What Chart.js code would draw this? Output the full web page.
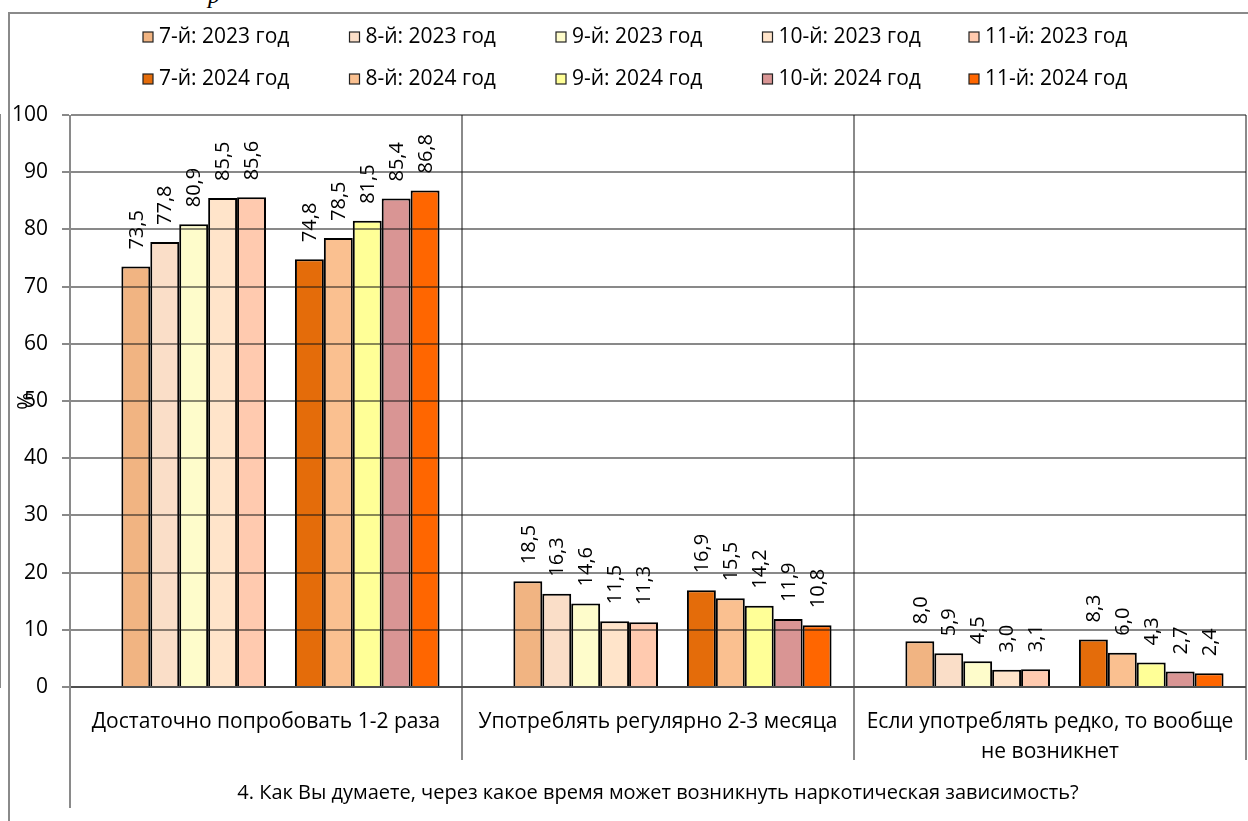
<!DOCTYPE html>
<html lang="ru">
<head>
<meta charset="utf-8">
<title>Наркотическая зависимость</title>
<script src="https://cdn.jsdelivr.net/npm/chart.js@4.4.1/dist/chart.umd.min.js"></script>
<style>
    html, body { margin: 0; padding: 0; background: #fff; }
    #wrap { position: relative; width: 1248px; height: 821px; overflow: hidden; }
    #frame {
        position: absolute; left: 8px; top: 12px; width: 1260px; height: 830px;
        border-top: 2px solid #8a8a8a; border-left: 2px solid #8a8a8a;
    }
    #cut {
        position: absolute; left: 208px; top: -18px; line-height: 24px;
        font: italic 24px "Liberation Serif", serif; color: #000;
    }
    canvas { position: absolute; left: 0; top: 0; }
</style>
</head>
<body>
<div id="wrap">
    <div id="frame"></div>
    <span id="cut">р</span>
    <canvas id="chart" width="1248" height="821"></canvas>
</div>

<script>
// ===============================
// DATA
// ===============================

const categories = [
    "Достаточно попробовать 1-2 раза",
    "Употреблять регулярно 2-3 месяца",
    ["Если употреблять редко, то вообще", "не возникнет"]
];

const grades = ["7-й", "8-й", "9-й", "10-й", "11-й"];

// one row per grade, one value per category
const values2023 = [
    [73.5, 18.5, 8.0],
    [77.8, 16.3, 5.9],
    [80.9, 14.6, 4.5],
    [85.5, 11.5, 3.0],
    [85.6, 11.3, 3.1]
];

const values2024 = [
    [74.8, 16.9, 8.3],
    [78.5, 15.5, 6.0],
    [81.5, 14.2, 4.3],
    [85.4, 11.9, 2.7],
    [86.8, 10.8, 2.4]
];

const yTickMin = 0;
const yTickMax = 100;
const yTickStep = 10;

const axisTitle = "4. Как Вы думаете, через какое время может возникнуть наркотическая зависимость?";

const colors2023 = ["#f1b482", "#fadec8", "#fefccb", "#ffe4ca", "#ffcaaf"];
const colors2024 = ["#e46c0a", "#fac090", "#ffff97", "#d99594", "#ff6600"];

const FONT = '"Open Sans", sans-serif';
const GRID = "rgba(20,20,20,0.5)";

// ===============================
// DATASETS
// ===============================

function spacer(){
    return { label: "", spacer: true, data: categories.map(() => null) };
}

function yearSets(values, colors, year){
    return values.map((row, i) => ({
        label: grades[i] + ": " + year,
        data: row,
        backgroundColor: colors[i],
        borderColor: "#000",
        borderWidth: 2
    }));
}

const datasets = [
    spacer(),
    ...yearSets(values2023, colors2023, "2023 год"),
    spacer(),
    ...yearSets(values2024, colors2024, "2024 год")
];

// ===============================
// PLUGINS
// ===============================

const barLabels = {
    id: "barLabels",
    afterDatasetsDraw(chart){
        const ctx = chart.ctx;
        ctx.save();
        ctx.font = "20px " + FONT;
        ctx.fillStyle = "#000";
        ctx.textAlign = "left";
        ctx.textBaseline = "middle";
        chart.data.datasets.forEach((ds, i) => {
            if (ds.spacer) return;
            chart.getDatasetMeta(i).data.forEach((bar, j) => {
                ctx.save();
                ctx.translate(bar.x + 1, bar.y - 17);
                ctx.rotate(-Math.PI / 2);
                ctx.fillText(ds.data[j].toFixed(1).replace(".", ","), 0, 0);
                ctx.restore();
            });
        });
        ctx.restore();
    }
};

const gridLegend = {
    id: "gridLegend",
    afterDraw(chart){
        const ctx = chart.ctx;
        const items = chart.data.datasets.filter(d => !d.spacer);
        ctx.save();
        ctx.font = "21px " + FONT;
        ctx.textBaseline = "middle";
        items.forEach((d, i) => {
            const x = 143 + (i % 5) * 206.5;
            const y = 37 + Math.floor(i / 5) * 42;
            ctx.fillStyle = d.backgroundColor;
            ctx.fillRect(x, y - 5, 10, 10);
            ctx.strokeStyle = "#222";
            ctx.lineWidth = 1.2;
            ctx.strokeRect(x, y - 5, 10, 10);
            ctx.fillStyle = "#000";
            ctx.fillText(d.label, x + 16, y);
        });

        // y axis line keeps going through the category label rows
        const a = chart.chartArea;
        ctx.strokeStyle = "#8a8a8a";
        ctx.lineWidth = 2;
        ctx.beginPath();
        ctx.moveTo(a.left, a.bottom);
        ctx.lineTo(a.left, a.bottom + 121);
        ctx.stroke();
        ctx.restore();
    }
};

// ===============================
// CHART
// ===============================

new Chart(document.getElementById("chart"), {
    type: "bar",
    data: {
        labels: categories,
        datasets: datasets
    },
    plugins: [barLabels, gridLegend],
    options: {
        responsive: false,
        animation: false,
        layout: {
            padding: { top: 115, left: 8, right: 2, bottom: 0 }
        },
        datasets: {
            bar: {
                categoryPercentage: 0.8855,
                barPercentage: 1.0
            }
        },
        plugins: {
            legend: { display: false },
            tooltip: { enabled: false }
        },
        scales: {
            x: {
                offset: true,
                afterFit(scale){ scale.height = 134; },
                grid: {
                    offset: true,
                    color: "#8a8a8a",
                    lineWidth: 2,
                    tickLength: 73
                },
                border: { color: "#8a8a8a", width: 2 },
                ticks: {
                    color: "#000",
                    padding: -53,
                    maxRotation: 0,
                    autoSkip: false,
                    font: { family: FONT, size: 21, lineHeight: 1.43 }
                },
                title: {
                    display: true,
                    text: axisTitle,
                    color: "#000",
                    padding: { top: 0, bottom: 16 },
                    font: { family: FONT, size: 20 }
                }
            },
            y: {
                min: yTickMin,
                max: yTickMax,
                afterFit(scale){ scale.width = 62; },
                grid: {
                    color: GRID,
                    lineWidth: 2,
                    tickLength: 8,
                    z: 1
                },
                border: { color: "#8a8a8a", width: 2 },
                ticks: {
                    stepSize: yTickStep,
                    color: "#000",
                    padding: 14,
                    font: { family: FONT, size: 21 }
                },
                title: {
                    display: true,
                    text: "%",
                    color: "#000",
                    padding: { top: 6, bottom: 0 },
                    font: { family: FONT, size: 21 }
                }
            }
        }
    }
});
</script>
</body>
</html>
